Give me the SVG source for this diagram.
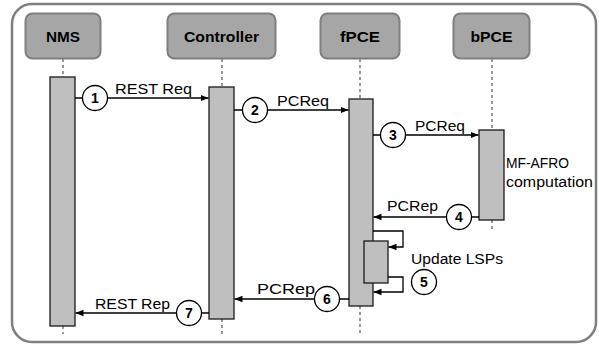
<svg xmlns="http://www.w3.org/2000/svg" width="599" height="347" viewBox="0 0 599 347">
<defs>
<marker id="ah" viewBox="0 0 10 10" refX="10" refY="5" markerWidth="8" markerHeight="8" markerUnits="userSpaceOnUse" orient="auto">
<path d="M0,1 L10,5 L0,9 Z" fill="#000"/>
</marker>
<style>
.frame{fill:#fff;stroke:#7f7f7f;stroke-width:2.5}
.head rect{fill:#a6a6a6;stroke:#7f7f7f;stroke-width:2}
.head text{font-family:"Liberation Sans",Arial,sans-serif;font-weight:bold;font-size:14.5px;text-anchor:middle;fill:#000}
.life{stroke:#333;stroke-width:1;stroke-dasharray:3,3;fill:none}
.bar{fill:#bfbfbf;stroke:#1a1a1a;stroke-width:1.3}
.msg{stroke:#000;stroke-width:1.3;fill:none;marker-end:url(#ah)}
.num circle{fill:#fff;stroke:#000;stroke-width:1.3}
.num text{font-family:"Liberation Sans",Arial,sans-serif;font-weight:bold;font-size:14px;text-anchor:middle;fill:#000}
.lbl{font-family:"Liberation Sans",Arial,sans-serif;font-size:14px;fill:#000}
</style>
</defs>
<rect class="frame" x="12" y="4" width="584" height="338" rx="20"/>

<g id="lifelines">
<line class="life" x1="63" y1="59" x2="63" y2="77"/>
<line class="life" x1="63" y1="326" x2="63" y2="334"/>
<line class="life" x1="222" y1="59" x2="222" y2="87"/>
<line class="life" x1="222" y1="319" x2="222" y2="334"/>
<line class="life" x1="360" y1="59" x2="360" y2="99"/>
<line class="life" x1="360" y1="306" x2="360" y2="334"/>
<line class="life" x1="492" y1="59" x2="492" y2="130"/>
<line class="life" x1="492" y1="220" x2="492" y2="232"/>
</g>

<g id="NMS" class="head">
<rect x="25.5" y="13.5" width="75" height="45" rx="7"/>
<text x="63" y="42" textLength="34" lengthAdjust="spacingAndGlyphs">NMS</text>
</g>
<g id="Controller" class="head">
<rect x="167.5" y="13.5" width="108" height="45" rx="7"/>
<text x="221.5" y="42" textLength="75" lengthAdjust="spacingAndGlyphs">Controller</text>
</g>
<g id="fPCE" class="head">
<rect x="320.5" y="13.5" width="79" height="45" rx="7"/>
<text x="360" y="42" textLength="40" lengthAdjust="spacingAndGlyphs">fPCE</text>
</g>
<g id="bPCE" class="head">
<rect x="453.5" y="13.5" width="76" height="45" rx="7"/>
<text x="491.5" y="42" textLength="42" lengthAdjust="spacingAndGlyphs">bPCE</text>
</g>

<g id="NMS-bar"><rect class="bar" x="50" y="77" width="25" height="249"/></g>
<g id="Controller-bar"><rect class="bar" x="209" y="87" width="25" height="232"/></g>
<g id="fPCE-bar"><rect class="bar" x="349" y="99" width="24" height="207"/></g>
<g id="fPCE-update"><rect class="bar" x="364" y="241" width="24" height="42"/></g>
<g id="bPCE-bar"><rect class="bar" x="479" y="130" width="25" height="90"/></g>

<g id="connectors">
<line class="msg" x1="75" y1="98" x2="208.5" y2="98"/>
<line class="msg" x1="234" y1="110" x2="348.5" y2="110"/>
<line class="msg" x1="373" y1="135" x2="478.5" y2="135"/>
<line class="msg" x1="479" y1="217" x2="373.5" y2="217"/>
<polyline class="msg" points="373,231 403,231 403,247 388.5,247"/>
<polyline class="msg" points="388,277 403,277 403,292 373.5,292"/>
<line class="msg" x1="349" y1="299" x2="234.5" y2="299"/>
<line class="msg" x1="209" y1="313" x2="75.5" y2="313"/>
</g>

<g id="labels">
<text class="lbl" x="115" y="94" textLength="77" lengthAdjust="spacingAndGlyphs">REST Req</text>
<text class="lbl" x="277" y="106" textLength="52" lengthAdjust="spacingAndGlyphs">PCReq</text>
<text class="lbl" x="415" y="131" textLength="50" lengthAdjust="spacingAndGlyphs">PCReq</text>
<text class="lbl" x="506" y="168" textLength="63" lengthAdjust="spacingAndGlyphs">MF-AFRO</text>
<text class="lbl" x="506" y="187" textLength="87" lengthAdjust="spacingAndGlyphs">computation</text>
<text class="lbl" x="387" y="211" textLength="51" lengthAdjust="spacingAndGlyphs">PCRep</text>
<text class="lbl" x="411" y="264" textLength="92" lengthAdjust="spacingAndGlyphs">Update LSPs</text>
<text class="lbl" x="257" y="294" textLength="58" lengthAdjust="spacingAndGlyphs">PCRep</text>
<text class="lbl" x="95" y="309" textLength="75" lengthAdjust="spacingAndGlyphs">REST Rep</text>
</g>

<g id="step1" class="num"><circle cx="95" cy="98" r="12.5"/><text x="95" y="103">1</text></g>
<g id="step2" class="num"><circle cx="255" cy="110" r="12.5"/><text x="255" y="115">2</text></g>
<g id="step3" class="num"><circle cx="393" cy="135" r="12.5"/><text x="393" y="140">3</text></g>
<g id="step4" class="num"><circle cx="459" cy="217" r="12.5"/><text x="459" y="222">4</text></g>
<g id="step5" class="num"><circle cx="424" cy="282" r="12.5"/><text x="424" y="287">5</text></g>
<g id="step6" class="num"><circle cx="327" cy="299" r="12.5"/><text x="327" y="304">6</text></g>
<g id="step7" class="num"><circle cx="189" cy="313" r="12.5"/><text x="189" y="318">7</text></g>
</svg>
